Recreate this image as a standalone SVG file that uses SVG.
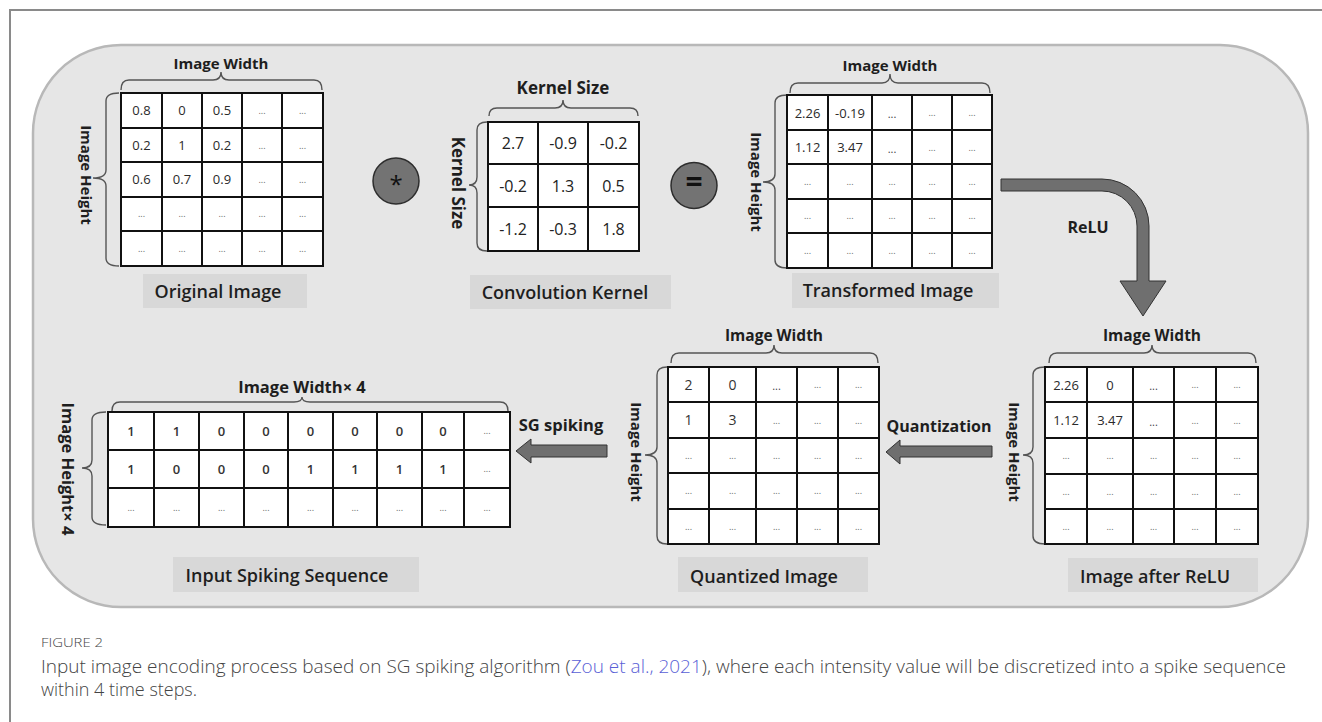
<svg xmlns="http://www.w3.org/2000/svg" width="1322" height="722" viewBox="0 0 1322 722">
<style>
.lbl{font-family:"Open Sans","DejaVu Sans",sans-serif;font-weight:700;fill:#1e1e1e;text-anchor:middle}
.box{fill:#d8d8d8}
.boxt{font-family:"Open Sans","DejaVu Sans",sans-serif;font-weight:600;font-size:18px;fill:#1e1e1e;text-anchor:middle}
.grid{fill:#fff;stroke:#111;stroke-width:2}
.gl{fill:none;stroke:#111;stroke-width:2}
.v{font-family:"Open Sans","DejaVu Sans",sans-serif;font-size:13px;fill:#2a2a2a;text-anchor:middle}
.k{font-family:"Open Sans","DejaVu Sans",sans-serif;font-size:16px;fill:#222;text-anchor:middle}
.q{font-family:"Open Sans","DejaVu Sans",sans-serif;font-size:14px;fill:#333;text-anchor:middle}
.s{font-family:"Open Sans","DejaVu Sans",sans-serif;font-size:13px;font-weight:600;fill:#333;text-anchor:middle}
.d{font-family:"Open Sans","DejaVu Sans",sans-serif;font-size:9px;fill:#666;text-anchor:middle}
.d2{font-family:"Open Sans","DejaVu Sans",sans-serif;font-size:11px;fill:#444;text-anchor:middle}
.brace{fill:none;stroke:#555;stroke-width:1.4}
.arrow{fill:#6f6f6f;stroke:#333;stroke-width:1}
.op{fill:#737373;stroke:#2d2d2d;stroke-width:1.5}
.opt{font-family:"Open Sans","DejaVu Sans",sans-serif;fill:#111;text-anchor:middle}
.cap{font-family:"Open Sans","Liberation Sans",sans-serif;font-weight:300;fill:#444}
</style>

<!-- figure frame -->
<path d="M10 722V10H1322" fill="none" stroke="#8a8a8a" stroke-width="2"/>
<!-- panel -->
<rect x="33" y="45" width="1275" height="562" rx="88" ry="88" fill="#e6e6e6" stroke="#b8b8b8" stroke-width="2.5"/>

<g id="original-image">
<text class="lbl" x="221" y="69" font-size="15">Image Width</text>
<path class="brace" d="M121 90Q121 80 129 80H213Q221 80 221 72Q221 80 229 80H314Q322 80 322 90"/>
<text class="lbl" font-size="15" transform="translate(81 175) rotate(90)">Image Height</text>
<path class="brace" d="M119 93Q106 93 106 101V170Q106 178 93 178Q106 178 106 186V258Q106 266 119 266"/>
<rect class="grid" x="121" y="93" width="202" height="173"/>
<path class="gl" d="M162 93V266M202 93V266M242 93V266M282 93V266M121 128H323M121 162H323M121 197H323M121 231H323"/>
<text class="v" x="141.5" y="115">0.8</text><text class="v" x="182" y="115">0</text><text class="v" x="222" y="115">0.5</text>
<text class="d" x="262" y="114">...</text><text class="d" x="302.5" y="114">...</text>
<text class="v" x="141.5" y="149.5">0.2</text><text class="v" x="182" y="149.5">1</text><text class="v" x="222" y="149.5">0.2</text>
<text class="d" x="262" y="148.5">...</text><text class="d" x="302.5" y="148.5">...</text>
<text class="v" x="141.5" y="184">0.6</text><text class="v" x="182" y="184">0.7</text><text class="v" x="222" y="184">0.9</text>
<text class="d" x="262" y="183">...</text><text class="d" x="302.5" y="183">...</text>
<text class="d" x="141.5" y="217">...</text><text class="d" x="182" y="217">...</text><text class="d" x="222" y="217">...</text><text class="d" x="262" y="217">...</text><text class="d" x="302.5" y="217">...</text>
<text class="d" x="141.5" y="251.5">...</text><text class="d" x="182" y="251.5">...</text><text class="d" x="222" y="251.5">...</text><text class="d" x="262" y="251.5">...</text><text class="d" x="302.5" y="251.5">...</text>
<rect class="box" x="143" y="274" width="164" height="34"/>
<text class="boxt" x="218" y="298">Original Image</text>
</g>

<g id="op-convolve">
<circle class="op" cx="396" cy="181" r="23"/>
<text class="opt" x="396" y="193" font-size="24" font-weight="400">*</text>
</g>

<g id="convolution-kernel">
<text class="lbl" x="563" y="94" font-size="17">Kernel Size</text>
<path class="brace" d="M489 116Q489 108 497 108H555Q563 108 563 100Q563 108 571 108H630Q638 108 638 116"/>
<text class="lbl" font-size="17" transform="translate(452 183) rotate(90)">Kernel Size</text>
<path class="brace" d="M487 122Q477 122 477 130V177Q477 185 469 185Q477 185 477 193V243Q477 251 487 251"/>
<rect class="grid" x="488" y="122" width="151" height="129"/>
<path class="gl" d="M538 122V251M588 122V251M488 164H639M488 207H639"/>
<text class="k" x="513" y="149">2.7</text><text class="k" x="563" y="149">-0.9</text><text class="k" x="613.5" y="149">-0.2</text>
<text class="k" x="513" y="191.5">-0.2</text><text class="k" x="563" y="191.5">1.3</text><text class="k" x="613.5" y="191.5">0.5</text>
<text class="k" x="513" y="235">-1.2</text><text class="k" x="563" y="235">-0.3</text><text class="k" x="613.5" y="235">1.8</text>
<rect class="box" x="470" y="275" width="201" height="34"/>
<text class="boxt" x="565" y="299">Convolution Kernel</text>
</g>

<g id="op-equals">
<circle class="op" cx="694" cy="185.5" r="23"/>
<text class="opt" x="694" y="192" font-size="30" font-weight="700">=</text>
</g>

<g id="transformed-image">
<text class="lbl" x="890" y="71" font-size="15">Image Width</text>
<path class="brace" d="M790 93Q790 83 798 83H882Q890 83 890 74Q890 83 898 83H982Q990 83 990 93"/>
<text class="lbl" font-size="15" transform="translate(751 182) rotate(90)">Image Height</text>
<path class="brace" d="M787 95Q775 95 775 103V174Q775 182 763 182Q775 182 775 190V260Q775 268 787 268"/>
<rect class="grid" x="787" y="95" width="205" height="173"/>
<path class="gl" d="M828 95V268M872 95V268M912 95V268M952 95V268M787 130H992M787 164H992M787 199H992M787 233H992"/>
<text class="v" x="807.5" y="117.5">2.26</text><text class="v" x="850" y="117.5">-0.19</text>
<text class="d2" x="892" y="118">...</text><text class="d" x="932" y="116">...</text><text class="d" x="972" y="116">...</text>
<text class="v" x="807.5" y="152">1.12</text><text class="v" x="850" y="152">3.47</text>
<text class="d2" x="892" y="152.5">...</text><text class="d" x="932" y="150.5">...</text><text class="d" x="972" y="150.5">...</text>
<text class="d" x="807.5" y="184.5">...</text><text class="d" x="850" y="184.5">...</text><text class="d" x="892" y="184.5">...</text><text class="d" x="932" y="184.5">...</text><text class="d" x="972" y="184.5">...</text>
<text class="d" x="807.5" y="219">...</text><text class="d" x="850" y="219">...</text><text class="d" x="892" y="219">...</text><text class="d" x="932" y="219">...</text><text class="d" x="972" y="219">...</text>
<text class="d" x="807.5" y="253.5">...</text><text class="d" x="850" y="253.5">...</text><text class="d" x="892" y="253.5">...</text><text class="d" x="932" y="253.5">...</text><text class="d" x="972" y="253.5">...</text>
<rect class="box" x="792" y="273" width="207" height="35"/>
<text class="boxt" x="888" y="297">Transformed Image</text>
</g>

<g id="image-after-relu">
<text class="lbl" x="1152" y="341" font-size="15.5">Image Width</text>
<path class="brace" d="M1049 363Q1049 353 1057 353H1144Q1152 353 1152 345Q1152 353 1160 353H1248Q1256 353 1256 363"/>
<text class="lbl" font-size="15" transform="translate(1009 452) rotate(90)">Image Height</text>
<path class="brace" d="M1045 367Q1033 367 1033 375V447Q1033 455 1023 455Q1033 455 1033 463V536Q1033 544 1045 544"/>
<rect class="grid" x="1045" y="367" width="213" height="177"/>
<path class="gl" d="M1087 367V544M1133 367V544M1174 367V544M1216 367V544M1045 402H1258M1045 438H1258M1045 474H1258M1045 509H1258"/>
<text class="v" x="1066" y="389.5">2.26</text><text class="v" x="1110" y="389.5">0</text>
<text class="d2" x="1153.5" y="390">...</text><text class="d" x="1195" y="388">...</text><text class="d" x="1237" y="388">...</text>
<text class="v" x="1066" y="425">1.12</text><text class="v" x="1110" y="425">3.47</text>
<text class="d2" x="1153.5" y="425.5">...</text><text class="d" x="1195" y="423.5">...</text><text class="d" x="1237" y="423.5">...</text>
<text class="d" x="1066" y="459">...</text><text class="d" x="1110" y="459">...</text><text class="d" x="1153.5" y="459">...</text><text class="d" x="1195" y="459">...</text><text class="d" x="1237" y="459">...</text>
<text class="d" x="1066" y="494.5">...</text><text class="d" x="1110" y="494.5">...</text><text class="d" x="1153.5" y="494.5">...</text><text class="d" x="1195" y="494.5">...</text><text class="d" x="1237" y="494.5">...</text>
<text class="d" x="1066" y="529.5">...</text><text class="d" x="1110" y="529.5">...</text><text class="d" x="1153.5" y="529.5">...</text><text class="d" x="1195" y="529.5">...</text><text class="d" x="1237" y="529.5">...</text>
<rect class="box" x="1068" y="558" width="190" height="34"/>
<text class="boxt" x="1155" y="583">Image after ReLU</text>
</g>

<g id="quantized-image">
<text class="lbl" x="774" y="341" font-size="15.5">Image Width</text>
<path class="brace" d="M671 363Q671 353 679 353H766Q774 353 774 345Q774 353 782 353H870Q878 353 878 363"/>
<text class="lbl" font-size="15" transform="translate(631 452) rotate(90)">Image Height</text>
<path class="brace" d="M667 367Q657 367 657 375V447Q657 455 645 455Q657 455 657 463V536Q657 544 667 544"/>
<rect class="grid" x="668" y="367" width="211" height="177"/>
<path class="gl" d="M709 367V544M756 367V544M797 367V544M838 367V544M668 402H879M668 438H879M668 473H879M668 509H879"/>
<text class="q" x="688.5" y="389.5">2</text><text class="q" x="732.5" y="389.5">0</text>
<text class="d2" x="776.5" y="390">...</text><text class="d" x="817.5" y="388">...</text><text class="d" x="858.5" y="388">...</text>
<text class="q" x="688.5" y="425">1</text><text class="q" x="732.5" y="425">3</text>
<text class="d" x="776.5" y="423.5">...</text><text class="d" x="817.5" y="423.5">...</text><text class="d" x="858.5" y="423.5">...</text>
<text class="d" x="688.5" y="458.5">...</text><text class="d" x="732.5" y="458.5">...</text><text class="d" x="776.5" y="458.5">...</text><text class="d" x="817.5" y="458.5">...</text><text class="d" x="858.5" y="458.5">...</text>
<text class="d" x="688.5" y="494">...</text><text class="d" x="732.5" y="494">...</text><text class="d" x="776.5" y="494">...</text><text class="d" x="817.5" y="494">...</text><text class="d" x="858.5" y="494">...</text>
<text class="d" x="688.5" y="529.5">...</text><text class="d" x="732.5" y="529.5">...</text><text class="d" x="776.5" y="529.5">...</text><text class="d" x="817.5" y="529.5">...</text><text class="d" x="858.5" y="529.5">...</text>
<rect class="box" x="678" y="557" width="190" height="35"/>
<text class="boxt" x="764" y="583">Quantized Image</text>
</g>

<g id="input-spiking-sequence">
<text class="lbl" x="302" y="393" font-size="16.5">Image Width× 4</text>
<path class="brace" d="M112 411Q112 402 120 402H294Q302 402 302 397Q302 402 310 402H500Q508 402 508 411"/>
<text class="lbl" font-size="16.5" transform="translate(62 469) rotate(90)">Image Height× 4</text>
<path class="brace" d="M106 412Q92 412 92 420V460Q92 468 82 468Q92 468 92 476V517Q92 525 106 525"/>
<rect class="grid" x="108" y="412" width="402" height="115"/>
<path class="gl" d="M154 412V527M199 412V527M244 412V527M288 412V527M333 412V527M377 412V527M422 412V527M464 412V527M108 450H510M108 488H510"/>
<text class="s" x="131" y="436">1</text><text class="s" x="176.5" y="436">1</text><text class="s" x="221.5" y="436">0</text><text class="s" x="266" y="436">0</text><text class="s" x="310.5" y="436">0</text><text class="s" x="355" y="436">0</text><text class="s" x="399.5" y="436">0</text><text class="s" x="443" y="436">0</text><text class="d" x="487" y="434">...</text>
<text class="s" x="131" y="474">1</text><text class="s" x="176.5" y="474">0</text><text class="s" x="221.5" y="474">0</text><text class="s" x="266" y="474">0</text><text class="s" x="310.5" y="474">1</text><text class="s" x="355" y="474">1</text><text class="s" x="399.5" y="474">1</text><text class="s" x="443" y="474">1</text><text class="d" x="487" y="472">...</text>
<text class="d" x="131" y="510.5">...</text><text class="d" x="176.5" y="510.5">...</text><text class="d" x="221.5" y="510.5">...</text><text class="d" x="266" y="510.5">...</text><text class="d" x="310.5" y="510.5">...</text><text class="d" x="355" y="510.5">...</text><text class="d" x="399.5" y="510.5">...</text><text class="d" x="443" y="510.5">...</text><text class="d" x="487" y="510.5">...</text>
<rect class="box" x="173" y="557" width="246" height="35"/>
<text class="boxt" x="287" y="582">Input Spiking Sequence</text>
</g>

<g id="connectors">
<path class="arrow" d="M1001 179H1102A47 47 0 0 1 1149 226V281H1166L1143 316L1120 281H1137V226A35 35 0 0 0 1102 191H1001Z"/>
<text class="lbl" x="1088" y="233" font-size="16">ReLU</text>
<path class="arrow" d="M992 446H900V440L886 452L900 464V457H992Z"/>
<text class="lbl" x="939" y="432" font-size="16">Quantization</text>
<path class="arrow" d="M607 445H531V439L516 451L531 463V457H607Z"/>
<text class="lbl" x="561" y="431" font-size="16.5">SG spiking</text>
</g>

<g id="caption">
<text class="cap" x="41" y="647" font-size="13.5" font-weight="400" fill="#555" textLength="62" lengthAdjust="spacingAndGlyphs">FIGURE 2</text>
<text class="cap" x="41" y="673" font-size="18" textLength="1245" lengthAdjust="spacingAndGlyphs">Input image encoding process based on SG spiking algorithm (<tspan fill="#5a5fd6">Zou et al., 2021</tspan>), where each intensity value will be discretized into a spike sequence</text>
<text class="cap" x="41" y="696" font-size="18" textLength="156" lengthAdjust="spacingAndGlyphs">within 4 time steps.</text>
</g>
</svg>
